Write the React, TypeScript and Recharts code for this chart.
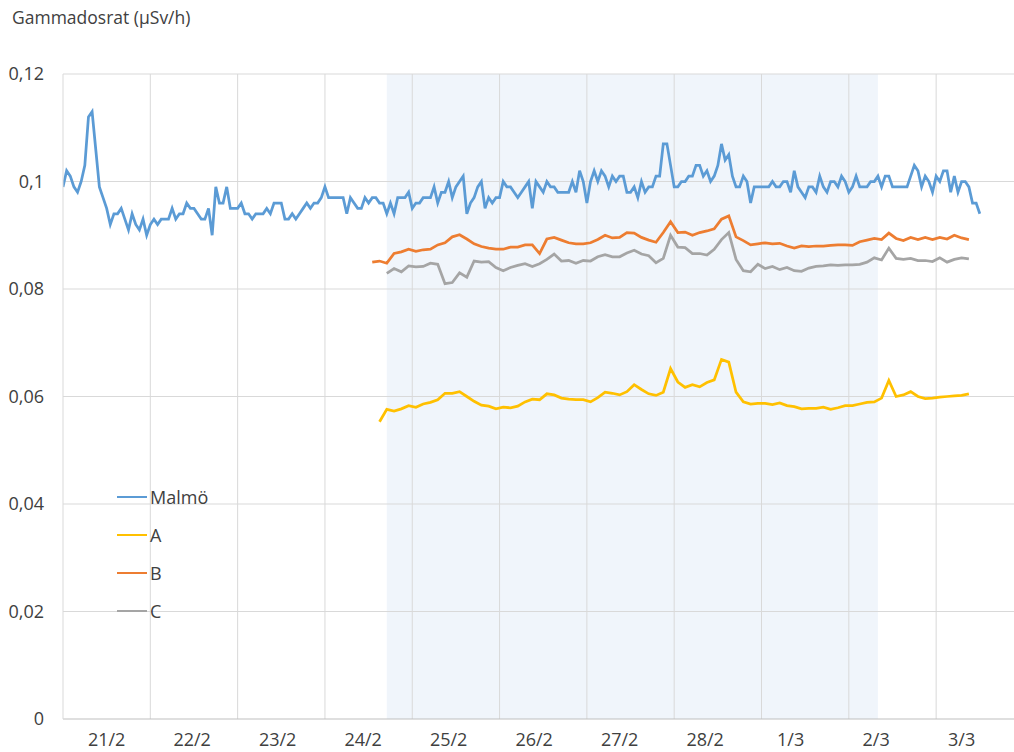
import {
  LineChart,
  Line,
  XAxis,
  YAxis,
  ReferenceArea,
  ReferenceLine,
  Legend,
} from "recharts";

// day labels along the x axis (one per day, starting 21/2)
const dayLabels = ["21/2", "22/2", "23/2", "24/2", "25/2", "26/2", "27/2", "28/2", "1/3", "2/3", "3/3"];
const yTicks = [0, 0.02, 0.04, 0.06, 0.08, 0.1, 0.12];

// Malmö, hourly values from 21/2 00:00
const malmo = [
  0.099, 0.102, 0.101, 0.099, 0.098, 0.1, 0.103, 0.112, 0.113, 0.106,
  0.099, 0.097, 0.095, 0.092, 0.094, 0.094, 0.095, 0.093, 0.091, 0.094,
  0.092, 0.091, 0.093, 0.09, 0.092, 0.093, 0.092, 0.093, 0.093, 0.093,
  0.095, 0.093, 0.094, 0.094, 0.096, 0.095, 0.095, 0.094, 0.093, 0.093,
  0.095, 0.09, 0.099, 0.096, 0.096, 0.099, 0.095, 0.095, 0.095, 0.096,
  0.094, 0.094, 0.093, 0.094, 0.094, 0.094, 0.095, 0.094, 0.096, 0.096,
  0.096, 0.093, 0.093, 0.094, 0.093, 0.094, 0.095, 0.096, 0.095, 0.096,
  0.096, 0.097, 0.099, 0.097, 0.097, 0.097, 0.097, 0.097, 0.094, 0.097,
  0.096, 0.095, 0.095, 0.097, 0.096, 0.097, 0.097, 0.096, 0.096, 0.094,
  0.096, 0.094, 0.097, 0.097, 0.097, 0.098, 0.095, 0.096, 0.096, 0.097,
  0.097, 0.097, 0.099, 0.096, 0.098, 0.098, 0.1, 0.097, 0.099, 0.1,
  0.101, 0.094, 0.096, 0.097, 0.099, 0.1, 0.095, 0.097, 0.096, 0.097,
  0.097, 0.1, 0.099, 0.099, 0.098, 0.097, 0.098, 0.099, 0.1, 0.095,
  0.1, 0.099, 0.098, 0.1, 0.099, 0.099, 0.098, 0.098, 0.098, 0.098,
  0.1, 0.098, 0.102, 0.1, 0.096, 0.1, 0.102, 0.1, 0.102, 0.101,
  0.099, 0.101, 0.1, 0.101, 0.101, 0.098, 0.098, 0.099, 0.097, 0.1,
  0.098, 0.099, 0.099, 0.101, 0.101, 0.107, 0.107, 0.103, 0.099, 0.099,
  0.1, 0.1, 0.101, 0.101, 0.103, 0.103, 0.101, 0.102, 0.1, 0.101,
  0.103, 0.107, 0.104, 0.105, 0.101, 0.099, 0.099, 0.101, 0.1, 0.096,
  0.099, 0.099, 0.099, 0.099, 0.099, 0.1, 0.099, 0.099, 0.1, 0.1,
  0.098, 0.102, 0.099, 0.098, 0.097, 0.099, 0.099, 0.098, 0.101, 0.099,
  0.098, 0.1, 0.1, 0.099, 0.101, 0.1, 0.098, 0.099, 0.101, 0.099,
  0.099, 0.099, 0.1, 0.1, 0.101, 0.099, 0.101, 0.101, 0.099, 0.099,
  0.099, 0.099, 0.099, 0.101, 0.103, 0.102, 0.099, 0.101, 0.1, 0.098,
  0.101, 0.1, 0.102, 0.102, 0.098, 0.101, 0.098, 0.1, 0.1, 0.099,
  0.096, 0.096, 0.094,
];

// A, B, C: every second hour, from their first hour
const aStart = 87;
const seriesA = [
  0.0553, 0.0576, 0.0573, 0.0577, 0.0583, 0.058, 0.0586, 0.0589, 0.0594, 0.0606,
  0.0606, 0.0609, 0.06, 0.0591, 0.0584, 0.0582, 0.0577, 0.058, 0.0579, 0.0582,
  0.059, 0.0595, 0.0594, 0.0605, 0.0603, 0.0597, 0.0595, 0.0594, 0.0594, 0.059,
  0.0598, 0.0608, 0.0606, 0.0603, 0.0609, 0.0622, 0.0613, 0.0605, 0.0602, 0.0608,
  0.0652, 0.0627, 0.0617,
  0.0622, 0.0618, 0.0626, 0.0631, 0.0669, 0.0664, 0.0608, 0.059, 0.0586, 0.0587,
  0.0587, 0.0585, 0.0588, 0.0583, 0.0581, 0.0577, 0.0578, 0.0578, 0.058, 0.0576,
  0.0579, 0.0583, 0.0583, 0.0586, 0.0589, 0.059, 0.0597, 0.063, 0.06, 0.0603,
  0.0609, 0.06, 0.0596, 0.0597, 0.0599, 0.06, 0.0601, 0.0602, 0.0605,
];

const bStart = 85;
const seriesB = [
  0.085, 0.0852, 0.0848, 0.0866, 0.0869, 0.0874, 0.087, 0.0873, 0.0874, 0.0882,
  0.0886, 0.0897, 0.0901, 0.0893, 0.0884, 0.0879, 0.0876, 0.0874, 0.0874, 0.0878,
  0.0878, 0.0882,
  0.0882, 0.0866, 0.0893, 0.0896, 0.0891, 0.0886, 0.0884, 0.0884, 0.0886, 0.0892,
  0.09, 0.0895, 0.0896, 0.0905, 0.0904, 0.0896, 0.0891, 0.0887, 0.0905, 0.0925,
  0.0905, 0.0906, 0.09, 0.0905, 0.0908, 0.0912, 0.093, 0.0936, 0.0897, 0.089,
  0.0882, 0.0884, 0.0886,
  0.0884, 0.0885, 0.088, 0.0876, 0.088, 0.0879, 0.088, 0.088, 0.0881, 0.0882,
  0.0882, 0.0881, 0.0888, 0.0891, 0.0894, 0.0892, 0.0904, 0.0894, 0.089, 0.0896,
  0.0892, 0.0896, 0.0892, 0.0896, 0.0893, 0.09, 0.0895, 0.0892,
];

const cStart = 89;
const seriesC = [
  0.0829, 0.0838, 0.0832, 0.0843, 0.0841, 0.0842, 0.0848, 0.0846, 0.081, 0.0812,
  0.083, 0.0822, 0.0852, 0.085, 0.0851, 0.084, 0.0834, 0.084, 0.0844, 0.0847,
  0.0842, 0.0847, 0.0855, 0.0865, 0.0852, 0.0853, 0.0848, 0.0853, 0.0852, 0.086,
  0.0864, 0.086, 0.086, 0.0867, 0.0872, 0.0865, 0.0862, 0.0849, 0.0857, 0.09,
  0.0878, 0.0877, 0.0866, 0.0866, 0.0863, 0.0874, 0.0892, 0.0905, 0.0855, 0.0834,
  0.0832, 0.0846, 0.0838,
  0.0842, 0.0836, 0.084, 0.0834, 0.0833, 0.0839, 0.0842, 0.0843, 0.0845, 0.0844,
  0.0845, 0.0845, 0.0846, 0.085, 0.0858, 0.0854, 0.0876, 0.0857, 0.0855, 0.0857,
  0.0853, 0.0853, 0.0851, 0.0858, 0.085, 0.0855, 0.0858, 0.0856,
];

// shaded period, in hours from 21/2 00:00
const shadeFrom = 89;
const shadeTo = 224;

const series = [
  { name: "Malmö", color: "#5b9bd5", values: malmo, start: 0, step: 1 },
  { name: "A", color: "#ffc000", values: seriesA, start: aStart, step: 2 },
  { name: "B", color: "#ed7d31", values: seriesB, start: bStart, step: 2 },
  { name: "C", color: "#a5a5a5", values: seriesC, start: cStart, step: 2 },
];

const toPoints = (values: number[], start: number, step: number) =>
  values.map((v, i) => ({ t: start + i * step, v }));

const font = "'Open Sans', sans-serif";
const textColor = "#404040";
const gridColor = "#d9d9d9";

const dayLines = dayLabels.slice(1).map((_, i) => (i + 1) * 24);
// Excel puts the date labels a little short of one day apart
const labelTicks = dayLabels.map((_, i) => 12 + i * 23.5);

const renderLegend = () => (
  <div style={{ fontFamily: font, fontSize: 18, color: textColor }}>
    {series.map((s) => (
      <div key={s.name} style={{ display: "flex", alignItems: "center", height: 38 }}>
        <span style={{ display: "inline-block", width: 30, height: 2.75, background: s.color, marginRight: 3 }} />
        <span>{s.name}</span>
      </div>
    ))}
  </div>
);

export default function App() {
  return (
    <div style={{ position: "absolute", left: 0, top: 0 }}>
      <LineChart width={1014} height={752} margin={{ top: 74, right: 0, bottom: 0, left: 0 }}>
        <ReferenceArea x1={shadeFrom} x2={shadeTo} y1={0} y2={0.12} fill="#dce8f5" fillOpacity={0.42} stroke="none" />
        {yTicks.slice(1).map((y) => (
          <ReferenceLine key={"y" + y} y={y} stroke={gridColor} strokeWidth={1} />
        ))}
        {dayLines.map((x) => (
          <ReferenceLine key={"x" + x} x={x} stroke={gridColor} strokeWidth={1} />
        ))}
        <XAxis
          type="number"
          dataKey="t"
          domain={[0, 261.4]}
          ticks={labelTicks}
          tickFormatter={(t) => dayLabels[Math.round((t - 12) / 23.5)]}
          interval={0}
          allowDataOverflow
          height={33}
          tickLine={false}
          tickSize={0}
          tickMargin={14}
          axisLine={{ stroke: "#bfbfbf" }}
          tick={{ fill: textColor, fontSize: 18, fontFamily: font }}
        />
        <YAxis
          type="number"
          domain={[0, 0.12]}
          ticks={yTicks}
          interval={0}
          width={63}
          tickLine={false}
          tickSize={0}
          tickMargin={19}
          axisLine={{ stroke: gridColor }}
          tickFormatter={(v) => String(v).replace(".", ",")}
          tick={{ fill: textColor, fontSize: 18, fontFamily: font }}
          label={{
            content: () => (
              <text x={12} y={24} fill={textColor} fontSize={17.5} fontFamily={font}>
                Gammadosrat (µSv/h)
              </text>
            ),
          }}
        />
        <Legend
          layout="vertical"
          align="center"
          verticalAlign="middle"
          content={renderLegend}
          wrapperStyle={{ left: 117, top: 478, width: 130 }}
        />
        {series.map((s) => (
          <Line
            key={s.name}
            data={toPoints(s.values, s.start, s.step)}
            dataKey="v"
            name={s.name}
            type="linear"
            stroke={s.color}
            strokeWidth={2.75}
            dot={false}
            isAnimationActive={false}
          />
        ))}
      </LineChart>
    </div>
  );
}
